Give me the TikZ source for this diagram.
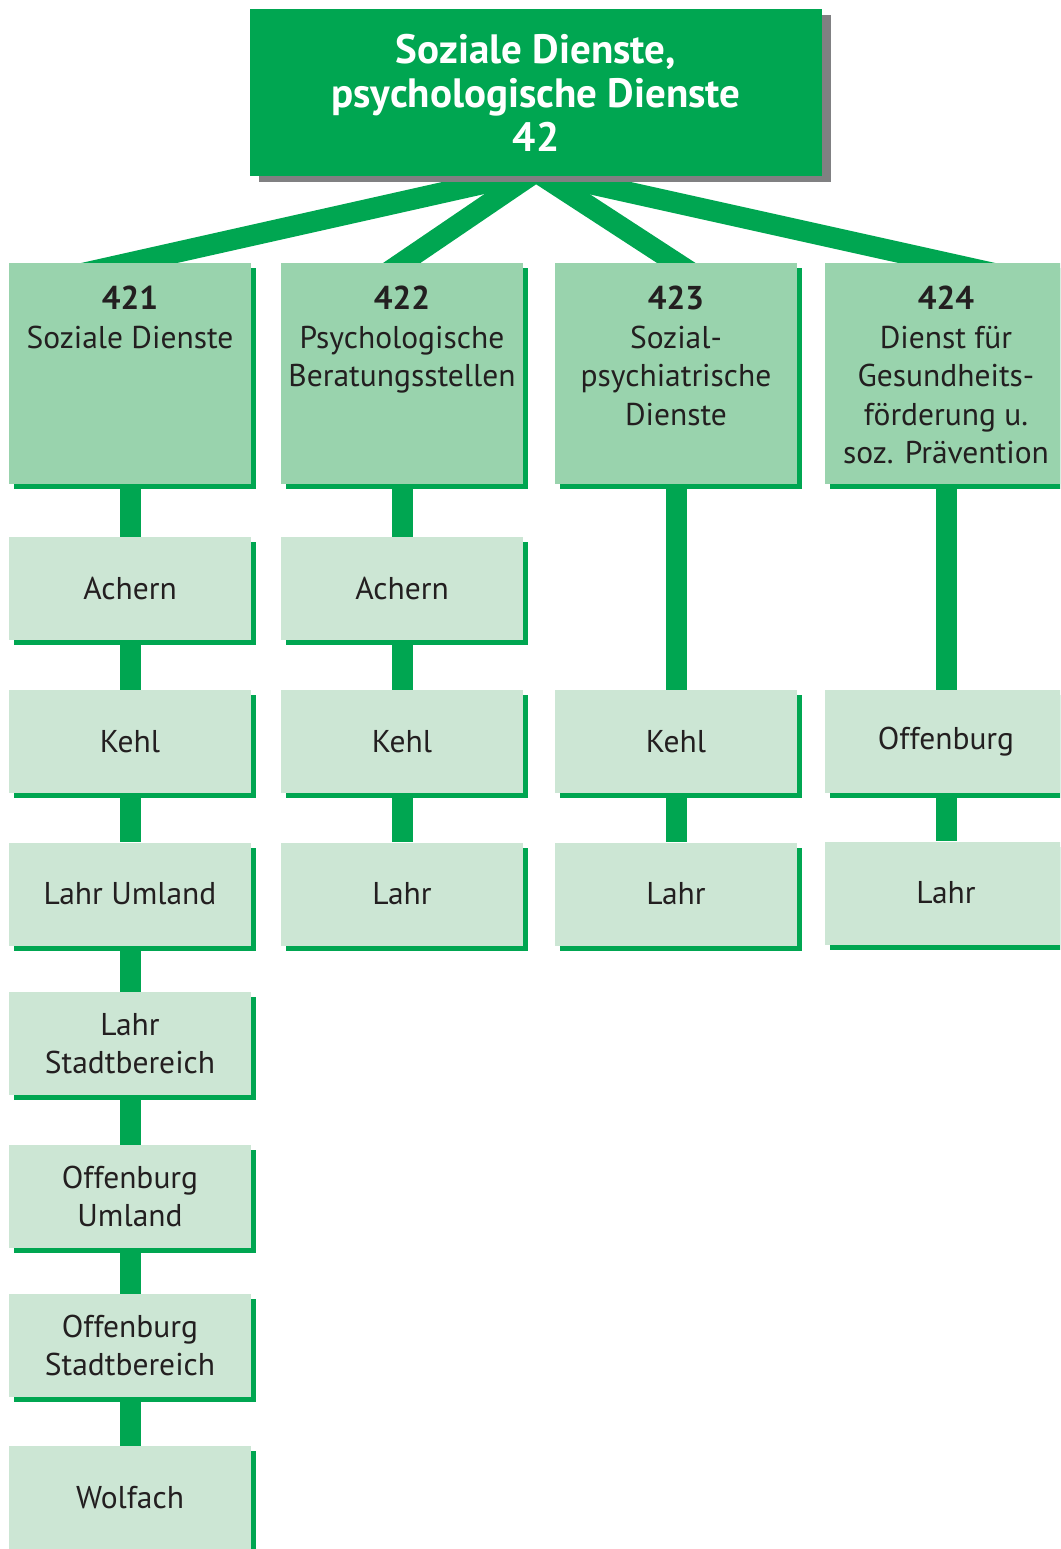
\documentclass[tikz,border=0pt]{standalone}
\usepackage{fontspec}
\setmainfont{PT Sans}
\usetikzlibrary{positioning,shadows,calc}
\definecolor{ogreen}{HTML}{00A651}
\definecolor{midgreen}{HTML}{99D3AD}
\definecolor{palegreen}{HTML}{CCE6D4}
\definecolor{shadowgray}{HTML}{808082}
\definecolor{ink}{HTML}{231F20}
\pgfdeclarelayer{background}
\pgfsetlayers{background,main}
\tikzset{
 headbox/.style={fill=ogreen,text=white,minimum width=572pt,minimum height=167pt,inner sep=0pt,
  align=center,font=\fontsize{41}{44}\selectfont\bfseries,
  drop shadow={shadow xshift=9pt,shadow yshift=-6pt,fill=shadowgray,opacity=1}},
 deptbox/.style={fill=midgreen,minimum width=242pt,minimum height=221pt,inner sep=0pt,
  drop shadow={shadow xshift=5pt,shadow yshift=-5pt,fill=ogreen,opacity=1}},
 depttext/.style={text=ink,align=center,inner sep=0pt,font=\fontsize{31.5}{38.5}\selectfont},
 sitebox/.style={fill=palegreen,text=ink,minimum width=242pt,minimum height=103pt,inner sep=0pt,
  align=center,font=\fontsize{31.5}{38.5}\selectfont,
  drop shadow={shadow xshift=5pt,shadow yshift=-5pt,fill=ogreen,opacity=1}},
 link/.style={ogreen,line width=21pt}
}
\begin{document}
\begin{tikzpicture}[x=1pt,y=-1pt]
\useasboundingbox (0,0) rectangle (1060,1549);
\clip (0,0) rectangle (1060,1549);
\node[headbox] (head) at (536,93) {Soziale Dienste,\\psychologische Dienste\\42};
% Abteilungen
\foreach \n/\x/\lab in {421/130/{Soziale Dienste},422/402/{Psychologische\\Beratungsstellen},
 423/676/{Sozial-\\psychiatrische\\Dienste},424/946/{Dienst für\\Gesundheits-\\förderung u.\\soz. Prävention}}
 {\node[deptbox] (d\n) at (\x,373.5) {};
  \node[depttext,below=23pt of d\n.north] (t\n) {\textbf{\fontsize{33}{38.5}\selectfont\n}\\\lab};}
% Standorte
\foreach \name/\x/\y/\lab in {a1/130/588.5/Achern,a2/130/741.5/Kehl,a3/130/894/{Lahr Umland},
 a4/130/1043.5/{Lahr\\Stadtbereich},a5/130/1196.5/{Offenburg\\Umland},a6/130/1345.5/{Offenburg\\Stadtbereich},
 a7/130/1497.5/Wolfach,b1/402/588.5/Achern,b2/402/741.5/Kehl,b3/402/894/Lahr,
 c2/676/741.5/Kehl,c3/676/894/Lahr,e2/946/741.5/Offenburg,e3/946/893/Lahr}
 \node[sitebox] (\name) at (\x,\y) {\lab};
\begin{pgfonlayer}{background}
\coordinate (hub) at ([yshift=5pt]head.south);
\foreach \n in {421,422,423,424} \draw[link] (hub) -- ($(hub)!1.25!(d\n.north)$);
\foreach \a/\b in {d421/a1,a1/a2,a2/a3,a3/a4,a4/a5,a5/a6,a6/a7,d422/b1,b1/b2,b2/b3,d423/c2,c2/c3,d424/e2,e2/e3}
 \draw[link] (\a.south) -- (\b.north);
\end{pgfonlayer}
\end{tikzpicture}
\end{document}
